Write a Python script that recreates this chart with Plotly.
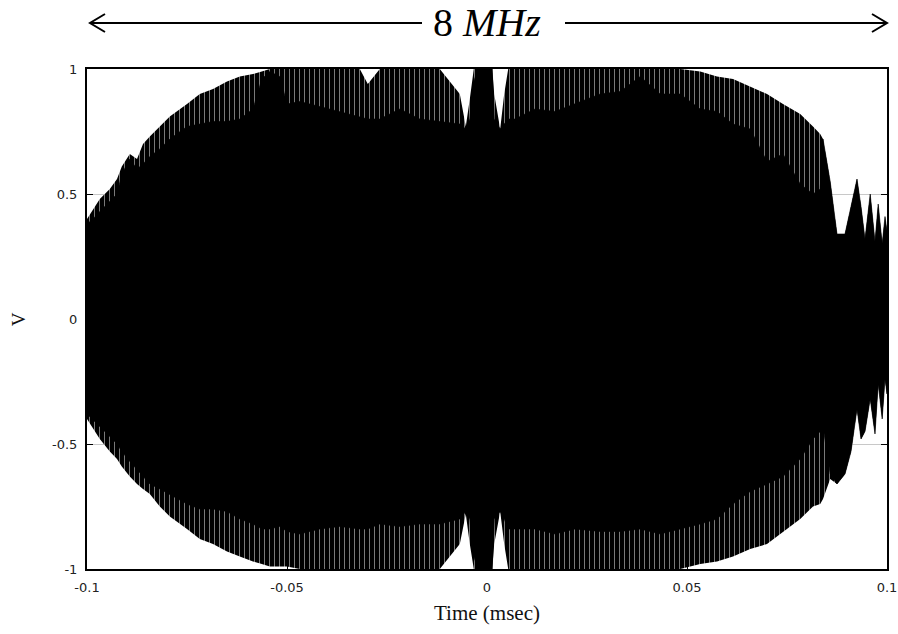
import plotly.graph_objects as go

# ---- data (time in msec, amplitude in V) ----
t = [-0.1, -0.0985, -0.0968, -0.0943, -0.0925, -0.0913, -0.0893, -0.0875, -0.086, -0.0843,
     -0.0818, -0.0793, -0.075, -0.0718, -0.0685, -0.065, -0.0618, -0.0585, -0.0563, -0.0543,
     -0.0518, -0.05, -0.0468, -0.0418, -0.0368, -0.0318, -0.0298, -0.0268, -0.0218, -0.0168,
     -0.0118, -0.0068, -0.0053, -0.0043, -0.0033, -0.0023, -0.0013, 0.0, 0.0013, 0.0018,
     0.0033, 0.0043, 0.0053, 0.007, 0.012, 0.017, 0.022, 0.0283, 0.0333, 0.0383,
     0.0433, 0.0483, 0.0533, 0.0575, 0.0615, 0.0658, 0.07, 0.074, 0.0783, 0.0815,
     0.0833, 0.084, 0.0858, 0.0875, 0.0895, 0.091, 0.0925, 0.0935, 0.0945, 0.0958,
     0.097, 0.0978, 0.0988, 0.0995, 0.1]

upper_peak = [0.40, 0.44, 0.48, 0.52, 0.56, 0.61, 0.66, 0.64, 0.70, 0.73,
              0.77, 0.81, 0.86, 0.90, 0.92, 0.95, 0.97, 0.98, 0.99, 1.0,
              1.0, 1.0, 1.0, 1.0, 1.0, 1.0, 0.94, 1.0, 1.0, 1.0,
              1.0, 0.90, 0.77, 0.88, 1.0, 1.0, 1.0, 1.0, 1.0, 0.90,
              0.76, 0.90, 1.0, 1.0, 1.0, 1.0, 1.0, 1.0, 1.0, 1.0,
              1.0, 1.0, 0.99, 0.97, 0.96, 0.93, 0.90, 0.86, 0.82, 0.77,
              0.74, 0.72, 0.55, 0.34, 0.34, 0.45, 0.56, 0.45, 0.32, 0.50,
              0.31, 0.46, 0.30, 0.41, 0.35]

upper_solid = [0.38, 0.40, 0.43, 0.47, 0.50, 0.58, 0.64, 0.60, 0.62, 0.65,
               0.68, 0.72, 0.77, 0.78, 0.79, 0.79, 0.80, 0.84, 0.96, 0.99,
               0.97, 0.86, 0.87, 0.85, 0.83, 0.81, 0.80, 0.80, 0.84, 0.80,
               0.79, 0.78, 0.76, 0.80, 0.95, 1.0, 1.0, 1.0, 1.0, 0.80,
               0.76, 0.78, 0.80, 0.80, 0.84, 0.83, 0.86, 0.90, 0.91, 0.97,
               0.90, 0.90, 0.84, 0.83, 0.78, 0.76, 0.63, 0.66, 0.54, 0.50,
               0.52, 0.72, 0.55, 0.34, 0.34, 0.45, 0.56, 0.45, 0.32, 0.50,
               0.31, 0.46, 0.30, 0.41, 0.35]

lower_peak = [-0.40, -0.44, -0.48, -0.53, -0.56, -0.59, -0.63, -0.66, -0.68, -0.70,
              -0.75, -0.79, -0.84, -0.88, -0.90, -0.93, -0.95, -0.97, -0.98, -0.99,
              -0.99, -0.99, -1.0, -1.0, -1.0, -1.0, -1.0, -1.0, -1.0, -1.0,
              -1.0, -0.90, -0.78, -0.90, -1.0, -1.0, -1.0, -1.0, -1.0, -0.90,
              -0.77, -0.90, -1.0, -1.0, -1.0, -1.0, -1.0, -1.0, -1.0, -1.0,
              -1.0, -1.0, -0.98, -0.97, -0.95, -0.92, -0.90, -0.85, -0.80, -0.75,
              -0.74, -0.72, -0.64, -0.66, -0.62, -0.53, -0.36, -0.48, -0.45, -0.32,
              -0.46, -0.26, -0.40, -0.24, -0.30]

lower_solid = [-0.38, -0.40, -0.43, -0.47, -0.50, -0.53, -0.57, -0.60, -0.63, -0.66,
               -0.68, -0.70, -0.74, -0.76, -0.76, -0.77, -0.80, -0.82, -0.84, -0.84,
               -0.83, -0.85, -0.86, -0.84, -0.83, -0.84, -0.84, -0.82, -0.83, -0.82,
               -0.82, -0.80, -0.77, -0.80, -0.95, -1.0, -1.0, -1.0, -1.0, -0.80,
               -0.77, -0.80, -0.84, -0.84, -0.84, -0.86, -0.84, -0.85, -0.85, -0.84,
               -0.86, -0.84, -0.82, -0.80, -0.74, -0.69, -0.66, -0.63, -0.56, -0.48,
               -0.45, -0.43, -0.62, -0.66, -0.62, -0.53, -0.36, -0.48, -0.45, -0.32,
               -0.46, -0.26, -0.40, -0.24, -0.30]

x_ticks = [-0.1, -0.05, 0, 0.05, 0.1]
x_tick_text = ["-0.1", "-0.05", "0", "0.05", "0.1"]
y_ticks = [-1, -0.5, 0, 0.5, 1]
y_tick_text = ["-1", "-0.5", "0", "0.5", "1"]

fig = go.Figure()

# outer (peak) envelope: comb-like region with thin white vertical gaps
fig.add_trace(go.Scatter(
    x=t + t[::-1], y=upper_peak + lower_peak[::-1],
    mode="lines", line=dict(width=0), fill="toself",
    fillcolor="black",
    fillpattern=dict(shape="|", fgcolor="#f2f2f2", bgcolor="black", size=5, solidity=0.2),
    hoverinfo="skip", showlegend=False))

# solid core
fig.add_trace(go.Scatter(
    x=t + t[::-1], y=upper_solid + lower_solid[::-1],
    mode="lines", line=dict(width=0.6, color="black"), fill="toself",
    fillcolor="black", hoverinfo="skip", showlegend=False))

tick_font = dict(family="DejaVu Sans", size=13, color="#222")
fig.update_xaxes(
    range=[-0.1, 0.1], tickvals=x_ticks, ticktext=x_tick_text, automargin=False,
    showgrid=False, zeroline=False, showline=True, linecolor="black", linewidth=2,
    mirror=True, ticks="inside", ticklen=6, tickcolor="black",
    tickfont=tick_font, ticklabelstandoff=5,
    title=dict(text="Time (msec)", font=dict(family="Liberation Serif", size=21, color="#111"),
               standoff=12))
fig.update_yaxes(
    range=[-1, 1], tickvals=y_ticks, ticktext=y_tick_text, automargin=False,
    showgrid=True, gridcolor="#c8c8c8", gridwidth=1, zeroline=False,
    showline=True, linecolor="black", linewidth=2, mirror="ticks",
    ticks="inside", ticklen=6, tickcolor="black",
    tickfont=tick_font, ticklabelstandoff=5)

# y-axis label "V"
fig.add_annotation(x=-0.086, y=0.5, xref="paper", yref="paper", text="V", showarrow=False,
                   textangle=-90, font=dict(family="Liberation Serif", size=19, color="#111"),
                   xanchor="center", yanchor="middle")

# 8 MHz span arrow on top
ya = 1.092
fig.add_annotation(x=0.5, y=ya, xref="paper", yref="paper", text="8 <i>MHz</i>",
                   showarrow=False, font=dict(family="Liberation Serif", size=40, color="black"),
                   xanchor="center", yanchor="middle")
line_style = dict(color="black", width=2)
x0, x1 = (90 - 87) / 800, (422 - 87) / 800
x2, x3 = (565 - 87) / 800, 1.0
fig.add_shape(type="line", xref="paper", yref="paper", x0=x0, x1=x1, y0=ya, y1=ya, line=line_style)
fig.add_shape(type="line", xref="paper", yref="paper", x0=x2, x1=x3, y0=ya, y1=ya, line=line_style)
hx = 15 / 800
hy = 9 / 500
fig.add_shape(type="path", xref="paper", yref="paper",
              path=f"M {x0+hx} {ya+hy} L {x0} {ya} L {x0+hx} {ya-hy}", line=line_style)
fig.add_shape(type="path", xref="paper", yref="paper",
              path=f"M {x3-hx} {ya+hy} L {x3} {ya} L {x3-hx} {ya-hy}", line=line_style)

fig.update_layout(
    width=898, height=634, autosize=False,
    margin=dict(l=87, r=11, t=69, b=65),
    paper_bgcolor="white", plot_bgcolor="white",
    showlegend=False)

fig.write_html("out.html", config={"responsive": False})
